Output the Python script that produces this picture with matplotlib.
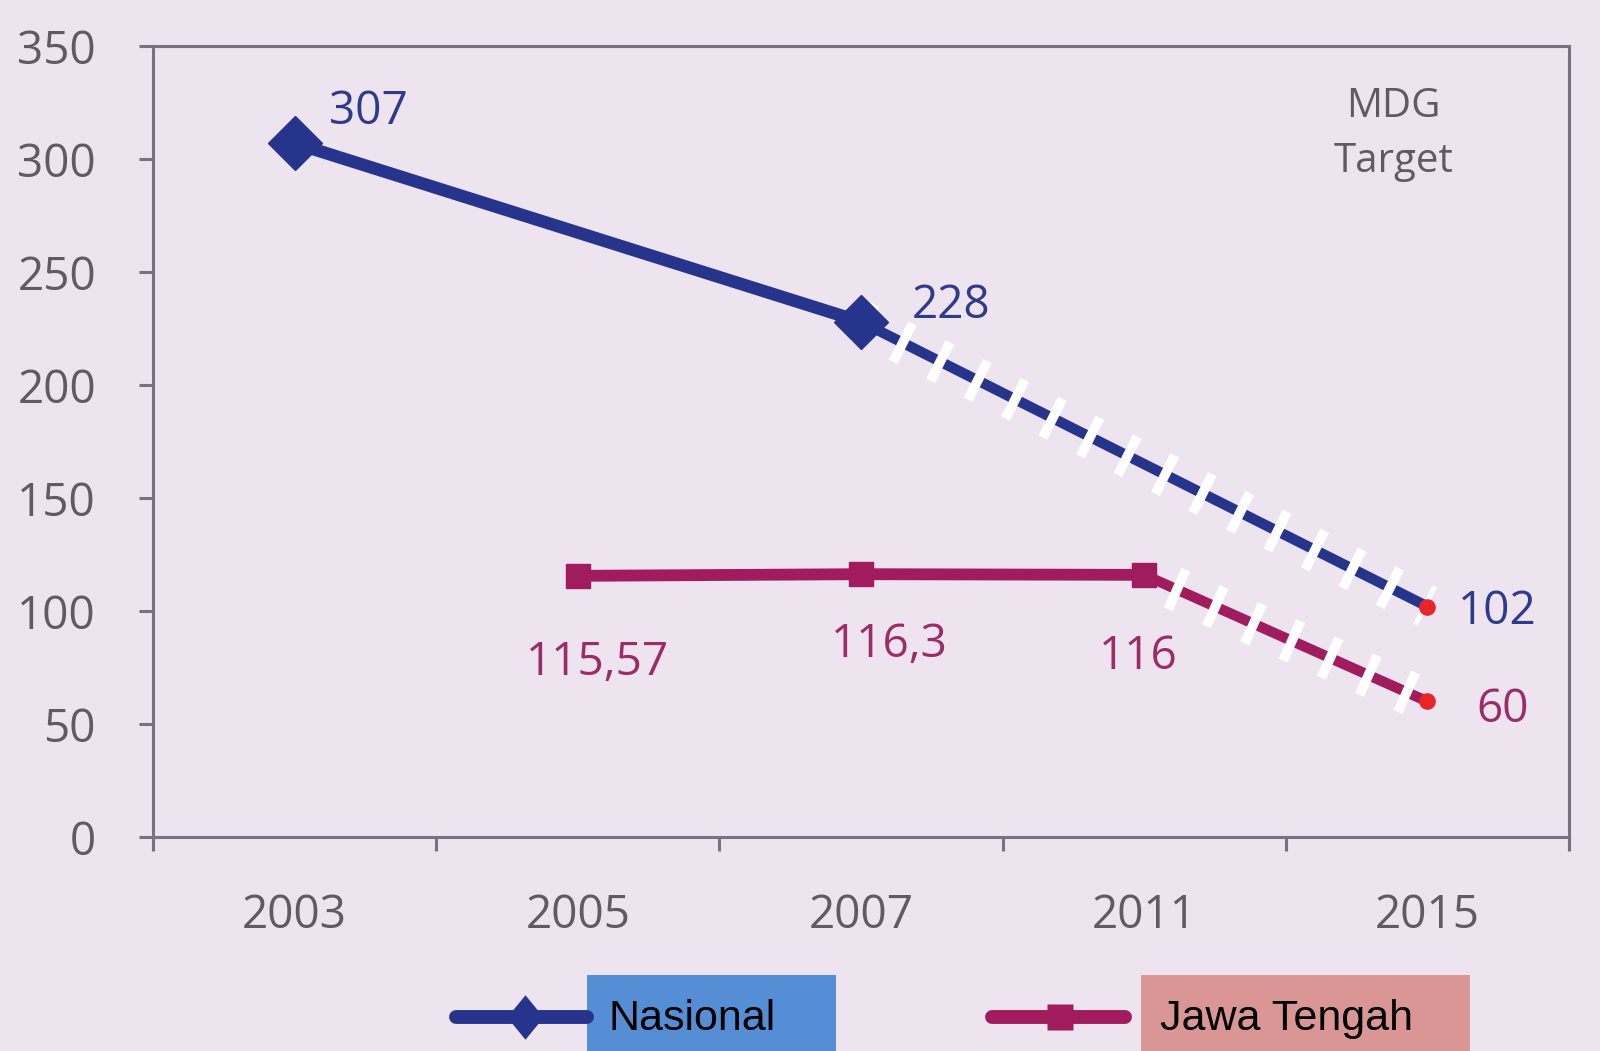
import numpy as np
import matplotlib.pyplot as plt
from matplotlib.lines import Line2D
from matplotlib.patches import Rectangle

plt.rcParams["lines.scale_dashes"] = False

# data
years = ["2003", "2005", "2007", "2011", "2015"]
nasional_idx = [0, 2]
nasional = [307, 228]
nasional_labels = ["307", "228"]
jateng_idx = [1, 2, 3]
jateng = [115.57, 116.3, 116]
jateng_labels = ["115,57", "116,3", "116"]
target_idx = 4
nasional_target = 102
jateng_target = 60

BG = "#EEE4F0"
BLUE = "#27348B"
MAGENTA = "#A01C5E"
BLUE_TXT = "#2E3A8C"
MAG_TXT = "#9C2C68"
GRAY = "#5F5A63"
SPINE = "#7A727E"
RED = "#E8262A"
FONT = ["Open Sans", "DejaVu Sans"]
FS = 33

fig = plt.figure(figsize=(16, 10.51), dpi=100, facecolor=BG)
ax = fig.add_axes([0.0956, 0.2036, 0.885, 0.7526])
ax.set_facecolor(BG)


def projected(ax, x0, y0, x1, y1, color, offset):
    # dashed projection line with white cross stripes
    ax.plot([x0, x1], [y0, y1], color=color, lw=7.5, solid_capstyle="butt", zorder=2)
    ax.plot([x0, x1], [y0, y1], color="white", lw=31,
            linestyle=(offset, (7.0, 23.2)), dash_capstyle="butt", zorder=3)
    ax.plot([x1], [y1], "o", color=RED, ms=12, mec="none", zorder=6)


# Nasional
ax.plot(nasional_idx, nasional, color=BLUE, lw=9, zorder=4)
ax.plot(nasional_idx, nasional, "D", color=BLUE, ms=27, zorder=5)
projected(ax, nasional_idx[-1], nasional[-1], target_idx, nasional_target, BLUE, 0)

# Jawa Tengah
ax.plot(jateng_idx, jateng, color=MAGENTA, lw=8.5, zorder=4)
ax.plot(jateng_idx, jateng, "s", color=MAGENTA, ms=17, zorder=5)
projected(ax, jateng_idx[-1], jateng[-1], target_idx, jateng_target, MAGENTA, 7.8)

# value labels
lab_kw = dict(textcoords="offset pixels", ha="center", va="center",
              fontsize=FS, family=FONT)
for x, y, s, off in zip(nasional_idx, nasional, nasional_labels, [(74, 31), (90, 16)]):
    ax.annotate(s, (x, y), xytext=off, color=BLUE_TXT, **lab_kw)
ax.annotate(str(nasional_target), (target_idx, nasional_target), xytext=(70, -5),
            color=BLUE_TXT, **lab_kw)
for x, y, s, off in zip(jateng_idx, jateng, jateng_labels,
                        [(20, -87), (28, -71), (-6, -82)]):
    ax.annotate(s, (x, y), xytext=off, color=MAG_TXT, **lab_kw)
ax.annotate(str(jateng_target), (target_idx, jateng_target), xytext=(75, -9),
            color=MAG_TXT, **lab_kw)

ax.text(3.88, 311, "MDG\nTarget", ha="center", va="center", fontsize=29,
        color=GRAY, family=FONT, linespacing=1.45)

# axes
ax.set_xlim(-0.5, 4.5)
ax.set_ylim(0, 350)
ax.set_yticks(np.arange(0, 351, 50))
ax.set_xticks(range(len(years)))
ax.set_xticklabels(years)
ax.set_xticks(np.arange(-0.5, 4.6, 1), minor=True)
ax.tick_params(axis="x", which="major", length=0, pad=40, labelsize=FS, labelcolor=GRAY)
ax.tick_params(axis="x", which="minor", length=10, width=2.2, color=SPINE, direction="out")
ax.tick_params(axis="y", length=10, width=2.2, color=SPINE, pad=31,
               labelsize=FS, labelcolor=GRAY)
for lbl in ax.get_xticklabels() + ax.get_yticklabels():
    lbl.set_family(FONT)
for sp in ax.spines.values():
    sp.set_color(SPINE)
    sp.set_linewidth(2.2)

# legend
fig.add_artist(Line2D([456 / 1600, 587 / 1600], [34 / 1051, 34 / 1051],
                      transform=fig.transFigure, color=BLUE, lw=10,
                      solid_capstyle="round"))
fig.add_artist(Line2D([525 / 1600], [34 / 1051], transform=fig.transFigure,
                      marker=[(-0.41, 0), (0, 0.5), (0.41, 0), (0, -0.5)],
                      ms=32, color=BLUE, mec="none"))
fig.add_artist(Rectangle((587 / 1600, 0), 249 / 1600, 76 / 1051,
                         transform=fig.transFigure, facecolor="#558ED5", edgecolor="none"))
fig.text(609 / 1600, 21 / 1051, "Nasional", fontsize=31, va="baseline",
         family=["Liberation Sans", "DejaVu Sans"], color="black")

fig.add_artist(Line2D([992 / 1600, 1125 / 1600], [34 / 1051, 34 / 1051],
                      transform=fig.transFigure, color=MAGENTA, lw=10,
                      solid_capstyle="round"))
fig.add_artist(Line2D([1060 / 1600], [34 / 1051], transform=fig.transFigure,
                      marker="s", ms=19, color=MAGENTA, mec="none"))
fig.add_artist(Rectangle((1141 / 1600, 0), 329 / 1600, 76 / 1051,
                         transform=fig.transFigure, facecolor="#D99694", edgecolor="none"))
fig.text(1160 / 1600, 21 / 1051, "Jawa Tengah", fontsize=31, va="baseline",
         family=["Liberation Sans", "DejaVu Sans"], color="black")

fig.savefig("out.png", dpi=100, facecolor=BG)
